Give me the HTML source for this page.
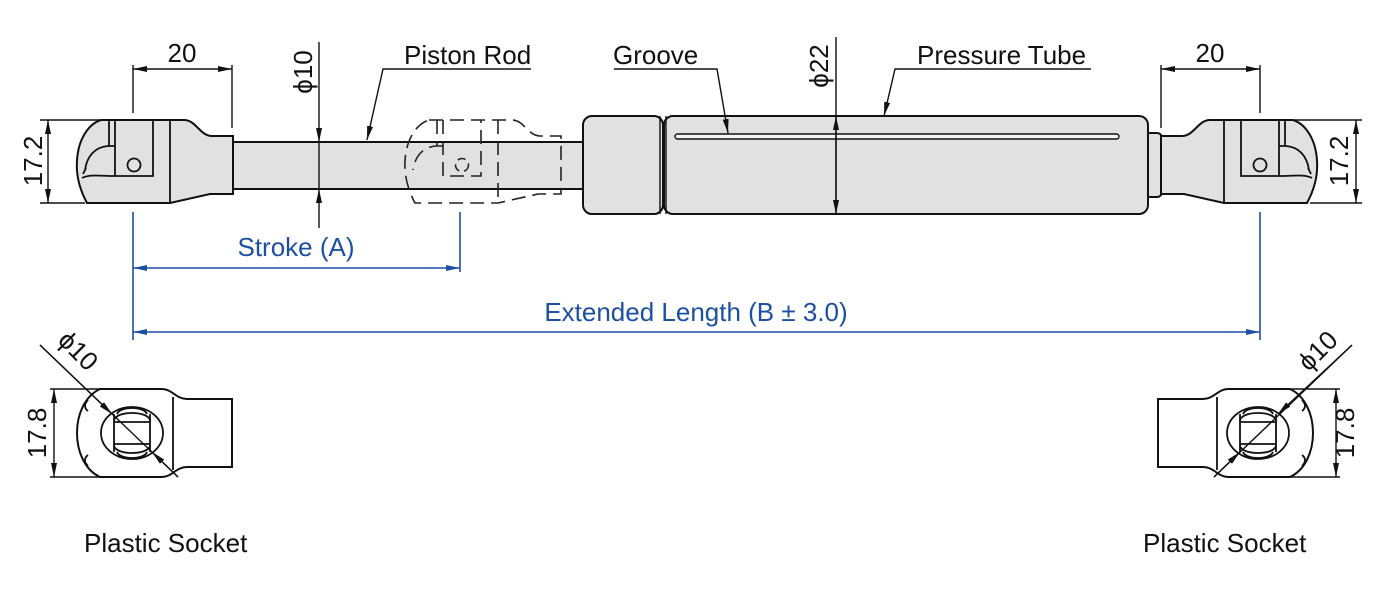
<!DOCTYPE html>
<html><head><meta charset="utf-8"><style>
html,body{margin:0;padding:0;background:#fff;}
svg{display:block;}
text{font-family:"Liberation Sans",Arial,sans-serif;}
</style></head><body>
<svg width="1400" height="590" viewBox="0 0 1400 590" xmlns="http://www.w3.org/2000/svg">
<defs>
<marker id="a" viewBox="0 0 14 6" refX="14" refY="3" markerWidth="14" markerHeight="6" markerUnits="userSpaceOnUse" orient="auto-start-reverse"><path d="M0,0 L14,3 L0,6 Z" fill="#111"/></marker>
<marker id="b" viewBox="0 0 14 6" refX="14" refY="3" markerWidth="14" markerHeight="6" markerUnits="userSpaceOnUse" orient="auto-start-reverse"><path d="M0,0 L14,3 L0,6 Z" fill="#1d4fa3"/></marker>
<g id="fit">
<path d="M101,120 L184,120 C196,120 200,136 212,136 L233,136 L233,194 L210,194 L170,203 L87,203 C80,190 76,175 77,161 C78,140 88,124 101,120 Z" fill="#e1e1e1" stroke="#111" stroke-width="2"/>
<path d="M170,120 V203 M115,120 V176 H153 V120 M109,120 V146 M115,146 H108 C95,147 87,156 85,170 M83,174 L86,168 M82,178 C90,174 100,176 115,176" fill="none" stroke="#111" stroke-width="1.8"/>
<circle cx="134" cy="165" r="6.5" fill="none" stroke="#111" stroke-width="1.8"/>
</g>
<g id="sock">
<path d="M100,389 L162,389 C172,389 176,399 187,399 L232,399 L232,467 L187,467 C176,467 172,477 162,477 L100,477 C85,470 77,452 77,433 C77,414 85,396 100,389 Z" fill="#fff" stroke="#111" stroke-width="2"/>
<path d="M173,397 V470" stroke="#111" stroke-width="1.8"/>
<path d="M88,400 C84,404 84,408 88,411 M88,455 C84,458 84,462 88,466" fill="none" stroke="#111" stroke-width="1.8"/>
<ellipse cx="132" cy="433" rx="31" ry="26" fill="none" stroke="#111" stroke-width="1.8"/>
<path d="M114,422 C112,410 152,410 150,422 M114,444 C112,456 152,456 150,444 M114,414 V452 M150,414 V452 M114,422 H150 M114,444 H150 M117,414 C120,406 144,406 147,414 M117,452 C120,460 144,460 147,452" fill="none" stroke="#111" stroke-width="1.8"/>
</g>
</defs>

<rect x="233" y="142" width="350" height="47" fill="#e1e1e1" stroke="#111" stroke-width="2"/>
<g transform="translate(328,0)" fill="none" stroke="#222" stroke-width="1.6" stroke-dasharray="14,7">
<path d="M101,120 L184,120 C196,120 200,136 212,136 L233,136 L233,194 L210,194 L170,203 L87,203 C80,190 76,175 77,161 C78,140 88,124 101,120 Z"/>
<path d="M170,120 V203 M115,120 V176 H153 V120 M109,120 V146 M115,146 H108 C95,147 87,156 85,170"/>
<circle cx="134" cy="165" r="6.5" stroke-dasharray="8,5"/>
</g>
<use href="#fit"/>
<rect x="1145" y="133" width="17" height="64" rx="5" fill="#e1e1e1" stroke="#111" stroke-width="2"/>
<use href="#fit" transform="translate(1394,0) scale(-1,1)"/>
<rect x="583" y="116" width="80" height="98" rx="9" fill="#e1e1e1" stroke="#111" stroke-width="2"/>
<rect x="664" y="116" width="484" height="98" rx="9" fill="#e1e1e1" stroke="#111" stroke-width="2"/>
<path d="M660,116 V214 M666,116 V214" stroke="#111" stroke-width="1.4"/>
<rect x="675" y="134" width="444" height="5" rx="2.5" fill="#f4f4f4" stroke="#111" stroke-width="1.4"/>

<g stroke="#111" stroke-width="1.4" fill="none">
<path d="M133,65 V113 M232,65 V128 M1161,65 V128 M1260,65 V113"/>
<path d="M133,69 H232" marker-start="url(#a)" marker-end="url(#a)"/>
<path d="M1161,69 H1260" marker-start="url(#a)" marker-end="url(#a)"/>
<path d="M40,120 H100 M40,203 H85 M1294,120 H1362 M1310,203 H1362"/>
<path d="M48,120 V203" marker-start="url(#a)" marker-end="url(#a)"/>
<path d="M1356,120 V203" marker-start="url(#a)" marker-end="url(#a)"/>
<path d="M319,42 V142" marker-end="url(#a)"/><path d="M319,228 V189" marker-end="url(#a)"/>
<path d="M319,142 V189"/>
<path d="M836,37 V214"/>
<path d="M836,165 V116" marker-end="url(#a)"/><path d="M836,165 V214" marker-end="url(#a)"/>
<path d="M531,69 H383 L367,140" marker-end="url(#a)"/>
<path d="M614,69 H717 L728,133" marker-end="url(#a)"/>
<path d="M1091,69 H895 L884,116" marker-end="url(#a)"/>
<path d="M50,389 H100 M50,477 H100 M1340,389 H1290 M1340,477 H1290"/>
<path d="M54,389 V477" marker-start="url(#a)" marker-end="url(#a)"/>
<path d="M1336,389 V477" marker-start="url(#a)" marker-end="url(#a)"/>
</g>
<use href="#sock"/>
<use href="#sock" transform="translate(1390,0) scale(-1,1)"/>
<g stroke="#111" stroke-width="1.4" fill="none">
<path d="M40,345 L178,477"/>
<path d="M40,345 L112,414" marker-end="url(#a)"/>
<path d="M178,477 L152,452" marker-end="url(#a)"/>
<path d="M1352,345 L1214,477"/>
<path d="M1352,345 L1278,414" marker-end="url(#a)"/>
<path d="M1214,477 L1240,452" marker-end="url(#a)"/>
</g>

<g stroke="#1d4fa3" stroke-width="1.6" fill="none">
<path d="M133,212 V340 M460,212 V272 M1260,212 V340"/>
<path d="M133,268 H460" marker-start="url(#b)" marker-end="url(#b)"/>
<path d="M133,332 H1260" marker-start="url(#b)" marker-end="url(#b)"/>
</g>

<g font-size="26" fill="#111">
<text x="182" y="62" text-anchor="middle">20</text>
<text x="1210" y="62" text-anchor="middle">20</text>
<text transform="translate(42,161) rotate(-90)" text-anchor="middle">17.2</text>
<text transform="translate(1348,161) rotate(-90)" text-anchor="middle">17.2</text>
<text transform="translate(312,72) rotate(-90)" text-anchor="middle">ϕ10</text>
<text transform="translate(828,66) rotate(-90)" text-anchor="middle">ϕ22</text>
<text x="404" y="64">Piston Rod</text>
<text x="613" y="64">Groove</text>
<text x="917" y="64">Pressure Tube</text>
<text transform="translate(46,433) rotate(-90)" text-anchor="middle">17.8</text>
<text transform="translate(1354,433) rotate(-90)" text-anchor="middle">17.8</text>
<text transform="translate(72,357) rotate(45)" text-anchor="middle">ϕ10</text>
<text transform="translate(1324,357) rotate(-45)" text-anchor="middle">ϕ10</text>
<text x="84" y="552">Plastic Socket</text>
<text x="1143" y="552">Plastic Socket</text>
</g>
<g font-size="26" fill="#1d4fa3">
<text x="296" y="256" text-anchor="middle">Stroke (A)</text>
<text x="696" y="321" text-anchor="middle">Extended Length (B ± 3.0)</text>
</g>
</svg>
</body></html>
